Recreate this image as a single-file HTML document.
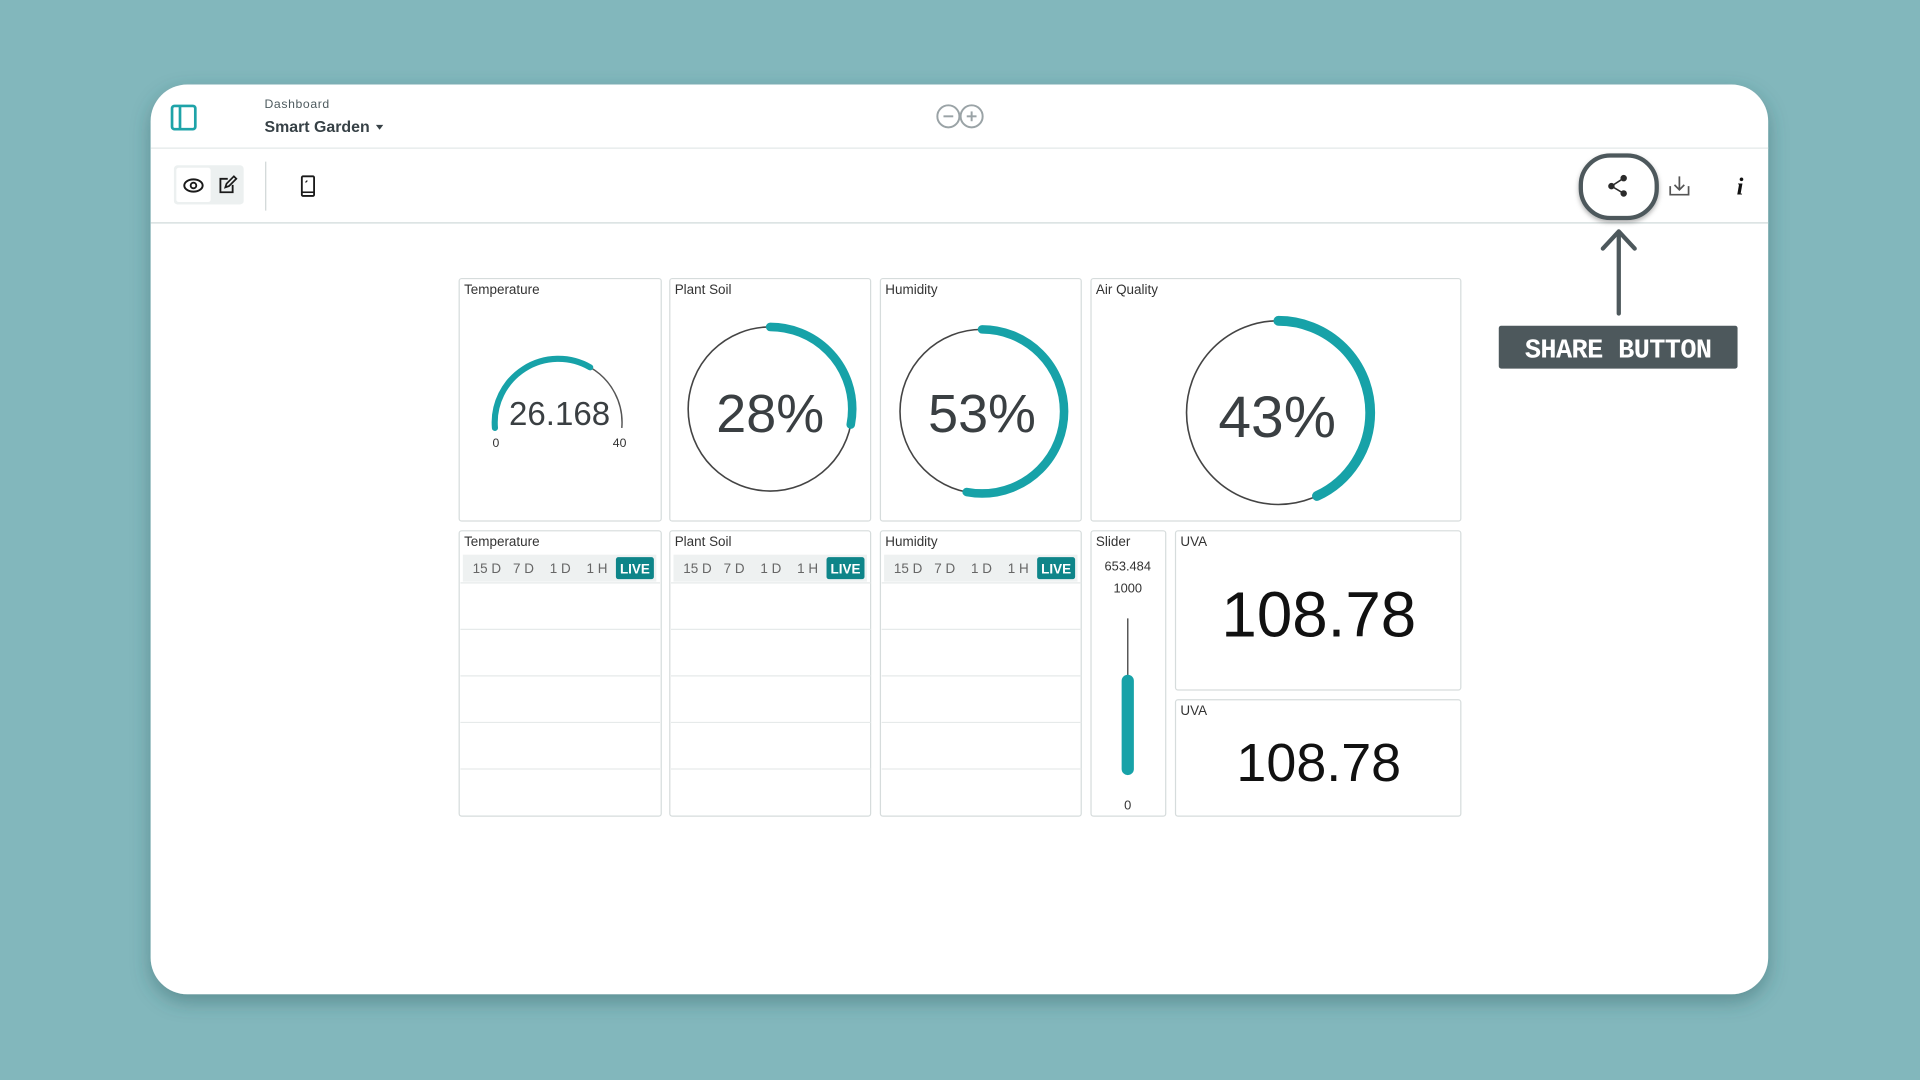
<!DOCTYPE html>
<html><head><meta charset="utf-8"><style>
html,body{margin:0;padding:0;width:1920px;height:1080px;overflow:hidden;background:#82b7bc;}
svg{display:block}
text{font-family:"Liberation Sans","DejaVu Sans",sans-serif;}
</style></head><body>
<svg width="1920" height="1080" viewBox="0 0 1568 882" xmlns="http://www.w3.org/2000/svg">
<defs>
<filter id="sh" x="-10%" y="-10%" width="120%" height="130%"><feDropShadow dx="0" dy="6" stdDeviation="8" flood-color="#2d5a5e" flood-opacity="0.45"/></filter>
<filter id="sh2" x="-30%" y="-30%" width="160%" height="160%"><feDropShadow dx="0" dy="2" stdDeviation="2" flood-color="#000" flood-opacity="0.3"/></filter>
</defs>
<rect width="1568" height="882" fill="#82b7bc"/>
<rect x="123" y="69" width="1321" height="743" rx="30" fill="#fff" filter="url(#sh)"/>
<!-- header -->
<line x1="123" y1="121" x2="1444" y2="121" stroke="#e3e8e8" stroke-width="1"/>
<line x1="123" y1="182" x2="1444" y2="182" stroke="#d8e0e0" stroke-width="1.2"/>
<rect x="140.5" y="86.5" width="19" height="19" rx="2" fill="none" stroke="#1ea3a8" stroke-width="2.2"/>
<line x1="147" y1="86.5" x2="147" y2="105.5" stroke="#1ea3a8" stroke-width="2.2"/>
<text x="216" y="88" font-size="10" fill="#4e5b5f" letter-spacing="0.5">Dashboard</text>
<text x="216" y="108" font-size="13" font-weight="bold" fill="#374146">Smart Garden</text>
<path d="M307 102 L313 102 L310 106 Z" fill="#374146"/>
<!-- arduino logo -->
<g fill="none" stroke="#9aa3a6" stroke-width="1.6">
<circle cx="774.5" cy="95" r="9"/><circle cx="793.5" cy="95" r="9"/>
<line x1="770.5" y1="95" x2="778.5" y2="95"/><line x1="789.5" y1="95" x2="797.5" y2="95"/><line x1="793.5" y1="91" x2="793.5" y2="99"/>
</g>
<!-- toolbar -->
<rect x="142" y="135" width="57" height="32" rx="3" fill="#ecf0f0"/>
<rect x="144" y="137" width="28" height="28" rx="2" fill="#fff"/>
<ellipse cx="158" cy="151.5" rx="7.5" ry="5" fill="none" stroke="#1a1a1a" stroke-width="1.6"/>
<circle cx="158" cy="151.5" r="2.3" fill="none" stroke="#1a1a1a" stroke-width="1.5"/>
<path d="M186 146 L180 146 L180 157 L190 157 L190 151" fill="none" stroke="#1a1a1a" stroke-width="1.5"/>
<path d="M184 153 L185 150 L191 144 L193 146 L187 152 Z" fill="none" stroke="#1a1a1a" stroke-width="1.4"/>
<line x1="217" y1="132" x2="217" y2="172" stroke="#cfd6d6" stroke-width="1"/>
<rect x="246.5" y="144" width="10" height="16" rx="1" fill="none" stroke="#1a1a1a" stroke-width="1.5"/>
<line x1="246.5" y1="157" x2="256.5" y2="157" stroke="#1a1a1a" stroke-width="1.3"/>
<line x1="249.5" y1="149" x2="251" y2="147.5" stroke="#1a1a1a" stroke-width="1"/>
<!-- share -->
<rect x="1291" y="127" width="62" height="51" rx="24" fill="#fff" stroke="#4d585c" stroke-width="3.5" filter="url(#sh2)"/>
<g fill="#2b2b2b" stroke="#2b2b2b" stroke-width="1.3">
<circle cx="1316" cy="152" r="2"/><circle cx="1326" cy="145.5" r="2"/><circle cx="1326" cy="158" r="2"/>
<line x1="1316" y1="152" x2="1326" y2="145.5"/><line x1="1316" y1="152" x2="1326" y2="158"/>
</g>
<g fill="none" stroke="#555" stroke-width="1.4">
<path d="M1364 152 L1364 159 L1379 159 L1379 152"/><path d="M1371.5 144 L1371.5 155 M1367.5 151 L1371.5 155 L1375.5 151"/>
</g>
<text x="1421" y="159" font-size="20" font-weight="bold" font-style="italic" style="font-family:'Liberation Serif',serif" fill="#111" text-anchor="middle">i</text>
<!-- arrow -->
<g stroke="#4d585c" stroke-width="3.5" fill="none" stroke-linecap="round" stroke-linejoin="round">
<line x1="1322" y1="190" x2="1322" y2="256"/><path d="M1309 203 L1322 189 L1335 203"/>
</g>
<rect x="1224" y="266" width="195" height="35" rx="2" fill="#4d585c"/>
<text x="1321.5" y="292" font-size="22" font-weight="bold" fill="#fff" text-anchor="middle" style="font-family:'Liberation Mono','DejaVu Sans Mono',monospace" letter-spacing="-0.5">SHARE BUTTON</text>
<!-- widgets -->
<g fill="#fff" stroke="#d6dcdc" stroke-width="1">
<rect x="375" y="227.5" width="165" height="198" rx="2"/>
<rect x="547" y="227.5" width="164" height="198" rx="2"/>
<rect x="719" y="227.5" width="164" height="198" rx="2"/>
<rect x="891" y="227.5" width="302" height="198" rx="2"/>
<rect x="375" y="433.5" width="165" height="233" rx="2"/>
<rect x="547" y="433.5" width="164" height="233" rx="2"/>
<rect x="719" y="433.5" width="164" height="233" rx="2"/>
<rect x="891" y="433.5" width="61" height="233" rx="2"/>
<rect x="960" y="433.5" width="233" height="130" rx="2"/>
<rect x="960" y="571.5" width="233" height="95" rx="2"/>
</g>
<g font-size="11" fill="#333">
<text x="379" y="240">Temperature</text><text x="551" y="240">Plant Soil</text><text x="723" y="240">Humidity</text><text x="895" y="240">Air Quality</text>
<text x="379" y="446">Temperature</text><text x="551" y="446">Plant Soil</text><text x="723" y="446">Humidity</text><text x="895" y="446">Slider</text>
<text x="964" y="446">UVA</text><text x="964" y="584">UVA</text>
</g>
<!-- temp gauge -->
<path d="M482 300 A52 52 0 0 1 507.8 349.5" fill="none" stroke="#555" stroke-width="1.2"/>
<path d="M404.2 349.5 A52 52 0 0 1 482 300" fill="none" stroke="#17a2a8" stroke-width="5" stroke-linecap="round"/>
<text x="457" y="347" font-size="27" fill="#3a3f42" text-anchor="middle">26.168</text>
<text x="405" y="365" font-size="10" fill="#333" text-anchor="middle">0</text>
<text x="506" y="365" font-size="10" fill="#333" text-anchor="middle">40</text>
<!-- circles -->
<circle cx="629" cy="334" r="67" fill="none" stroke="#444" stroke-width="1.3"/>
<circle cx="629" cy="334" r="67" fill="none" stroke="#17a2a8" stroke-width="7" stroke-linecap="round" stroke-dasharray="118 500" transform="rotate(-90 629 334)"/>
<text x="629" y="353" font-size="44" fill="#3a3f42" text-anchor="middle">28%</text>
<circle cx="802" cy="336" r="67" fill="none" stroke="#444" stroke-width="1.3"/>
<circle cx="802" cy="336" r="67" fill="none" stroke="#17a2a8" stroke-width="7" stroke-linecap="round" stroke-dasharray="223 500" transform="rotate(-90 802 336)"/>
<text x="802" y="353" font-size="44" fill="#3a3f42" text-anchor="middle">53%</text>
<circle cx="1044" cy="337" r="75" fill="none" stroke="#444" stroke-width="1.3"/>
<circle cx="1044" cy="337" r="75" fill="none" stroke="#17a2a8" stroke-width="8" stroke-linecap="round" stroke-dasharray="203 600" transform="rotate(-90 1044 337)"/>
<text x="1043" y="357" font-size="48" fill="#3a3f42" text-anchor="middle">43%</text>
<!-- charts -->
<g id="ch">
<rect x="378" y="453" width="158" height="22" fill="#eef1f1"/>
<rect x="503" y="455" width="31" height="18" rx="2" fill="#0e8589"/>
<g font-size="11" fill="#666"><text x="386" y="468">15 D</text><text x="419" y="468">7 D</text><text x="449" y="468">1 D</text><text x="479" y="468">1 H</text></g>
<text x="518.5" y="468.5" font-size="11" font-weight="bold" fill="#fff" text-anchor="middle">LIVE</text>
<g stroke="#e6eaea" stroke-width="1"><line x1="376" y1="476" x2="539" y2="476"/><line x1="376" y1="514" x2="539" y2="514"/><line x1="376" y1="552" x2="539" y2="552"/><line x1="376" y1="590" x2="539" y2="590"/><line x1="376" y1="628" x2="539" y2="628"/></g>
</g>
<use href="#ch" x="172"/>
<use href="#ch" x="344"/>
<!-- slider -->
<text x="921" y="466" font-size="10.5" fill="#333" text-anchor="middle">653.484</text>
<text x="921" y="484" font-size="10.5" fill="#333" text-anchor="middle">1000</text>
<line x1="921" y1="505" x2="921" y2="630" stroke="#555" stroke-width="1.2"/>
<line x1="921" y1="556" x2="921" y2="628" stroke="#17a2a8" stroke-width="10" stroke-linecap="round"/>
<text x="921" y="661" font-size="10.5" fill="#333" text-anchor="middle">0</text>
<!-- UVA -->
<text x="1077" y="520" font-size="52" fill="#111" text-anchor="middle">108.78</text>
<text x="1077" y="638" font-size="44" fill="#111" text-anchor="middle">108.78</text>
</svg>
</body></html>
